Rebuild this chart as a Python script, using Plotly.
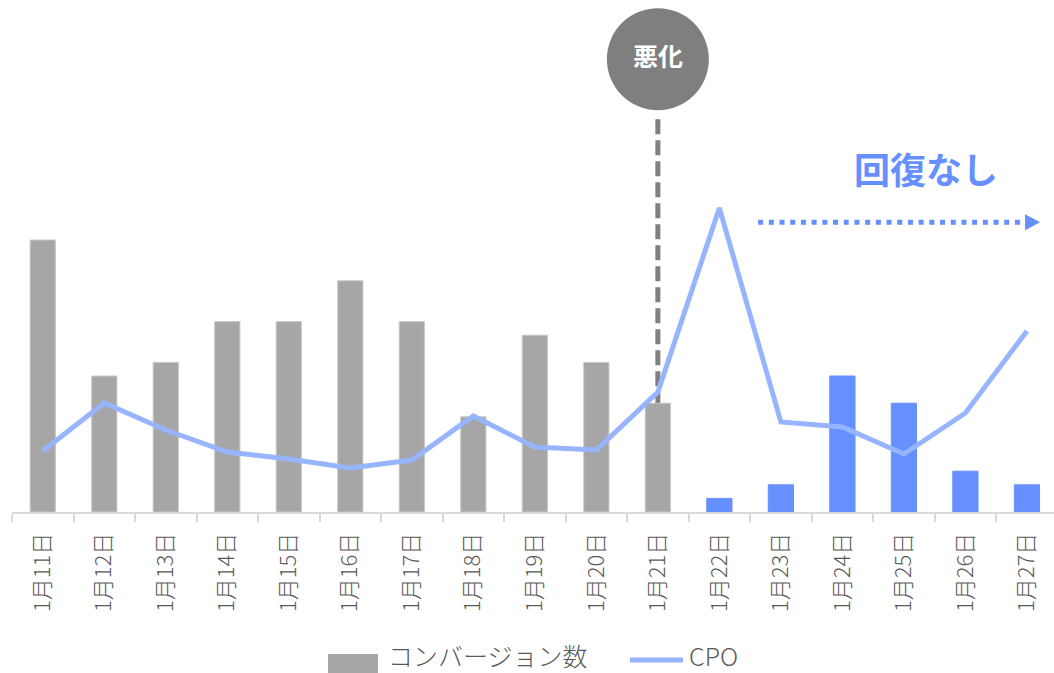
import plotly.graph_objects as go

# Daily data
dates = ["1月11日", "1月12日", "1月13日", "1月14日", "1月15日", "1月16日", "1月17日",
         "1月18日", "1月19日", "1月20日", "1月21日", "1月22日", "1月23日", "1月24日",
         "1月25日", "1月26日", "1月27日"]
conversions = [20, 10, 11, 14, 14, 17, 14, 7, 13, 11, 8, 1, 2, 10, 8, 3, 2]
cpo = [3050, 5450, 4100, 3000, 2650, 2200, 2600, 4800, 3250, 3100, 6000,
       15200, 4500, 4250, 2900, 4950, 9050]

event_date = "1月21日"      # day the metrics turned worse
event_label = "悪化"
trend_label = "回復なし"

GRAY = "#A6A6A6"
BLUE = "#668FFF"
LINE = "#97B4FF"
DARK = "#7F7F7F"
TEXT = "#595959"
FONT = "Noto Sans CJK JP"

event_idx = dates.index(event_date)
bar_colors = [GRAY if i <= event_idx else BLUE for i in range(len(dates))]
bar_lines = ["#C8C8C8" if i <= event_idx else BLUE for i in range(len(dates))]

fig = go.Figure()
fig.add_trace(go.Bar(
    x=dates, y=conversions, name="コンバージョン数",
    marker=dict(color=bar_colors, line=dict(color=bar_lines, width=1)),
    width=0.41, showlegend=False,
))
fig.add_trace(go.Scatter(
    x=dates, y=cpo, name="CPO", yaxis="y2", mode="lines",
    line=dict(color=LINE, width=5), showlegend=False,
))

shapes = []
# dashed marker line under the event badge
shapes.append(dict(type="line", xref="x", yref="y", x0=event_idx, x1=event_idx,
                   y0=7.7, y1=29.2, line=dict(color=DARK, width=5, dash="15px,6px"),
                   layer="below"))
# event badge circle
shapes.append(dict(type="circle", xref="x", yref="y", xsizemode="pixel", ysizemode="pixel",
                   xanchor=event_idx, yanchor=33.3, x0=-51, x1=51, y0=-51, y1=51,
                   fillcolor=DARK, line=dict(width=0)))
# dotted trend arrow
shapes.append(dict(type="line", xref="x", yref="y", x0=11.63, x1=15.95, y0=21.3, y1=21.3,
                   line=dict(color=BLUE, width=5, dash="5px,5.7px")))
shapes.append(dict(type="path", xref="x", yref="y", xsizemode="pixel", ysizemode="pixel",
                   xanchor=15.97, yanchor=21.3, path="M 0 -8 L 15 0 L 0 8 Z",
                   fillcolor=BLUE, line=dict(width=0)))
# legend symbols
shapes.append(dict(type="rect", xref="paper", yref="paper", x0=0.3033, x1=0.3512,
                   y0=-0.3145, y1=-0.2773, fillcolor=GRAY, line=dict(width=0)))
shapes.append(dict(type="line", xref="paper", yref="paper", x0=0.5931, x1=0.6440,
                   y0=-0.289, y1=-0.289, line=dict(color=LINE, width=5)))

annotations = [
    dict(x=event_idx, y=33.6, xref="x", yref="y", text=f"<b>{event_label}</b>",
         showarrow=False, font=dict(family=FONT, size=25, color="white")),
    dict(x=14.36, y=25.3, xref="x", yref="y", text=f"<b>{trend_label}</b>",
         showarrow=False, font=dict(family=FONT, size=36, color=BLUE)),
    dict(x=0.3599, y=-0.2793, xref="paper", yref="paper", xanchor="left", yanchor="middle",
         text="コンバージョン数", showarrow=False, borderpad=0,
         font=dict(family=FONT, size=25, color=TEXT, weight=300)),
    dict(x=0.6488, y=-0.2793, xref="paper", yref="paper", xanchor="left", yanchor="middle",
         text="CPO", showarrow=False, borderpad=0,
         font=dict(family=FONT, size=25, color=TEXT, weight=300)),
]

fig.update_layout(
    width=1054, height=673,
    margin=dict(l=12, r=0, t=0, b=161),
    paper_bgcolor="white", plot_bgcolor="white",
    showlegend=False,
    font=dict(family=FONT, color=TEXT),
    xaxis=dict(
        type="category", range=[-0.5, 16.44],
        showline=True, linecolor="#D9D9D9", linewidth=2,
        ticks="outside", tickson="boundaries", ticklen=8, tickcolor="#D9D9D9", tickwidth=2,
        tickangle=-90, ticklabelstandoff=10,
        tickfont=dict(family=FONT, size=22, color=TEXT, weight=300),
        showgrid=False, zeroline=False,
    ),
    yaxis=dict(range=[0, 37.65], visible=False, showgrid=False, zeroline=False),
    yaxis2=dict(range=[0, 25600], overlaying="y", visible=False, showgrid=False,
                zeroline=False),
    shapes=shapes,
    annotations=annotations,
)

fig.write_html("out.html")
